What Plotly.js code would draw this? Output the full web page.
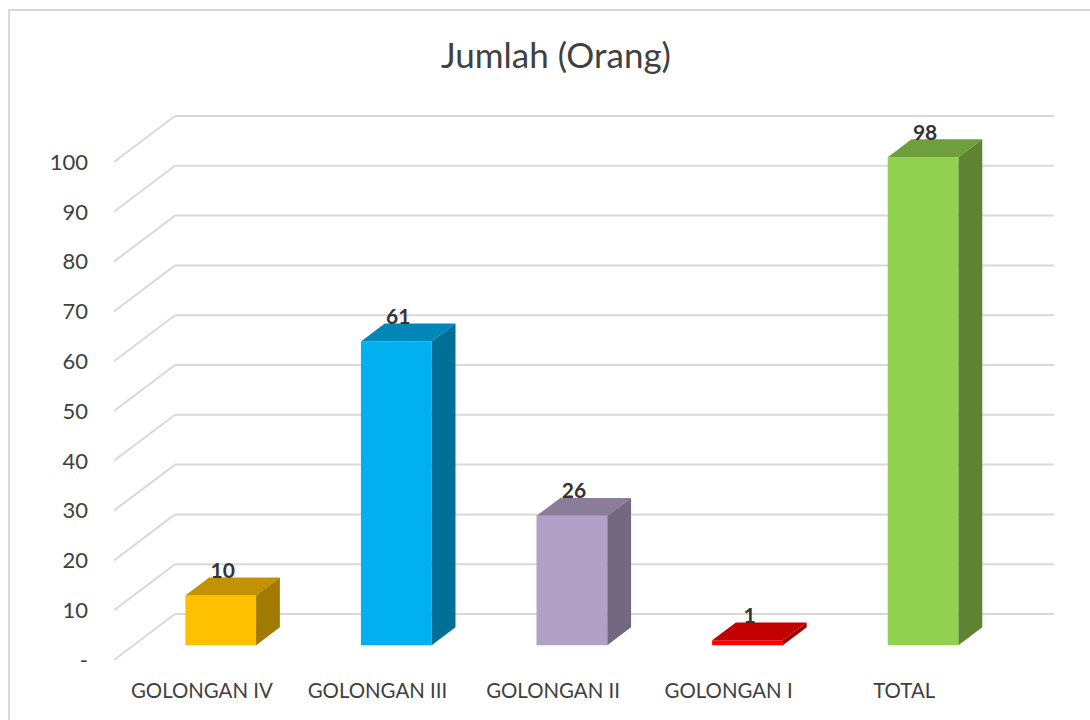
<!DOCTYPE html>
<html>
<head>
<meta charset="utf-8">
<script src="https://cdn.plot.ly/plotly-3.0.1.min.js"></script>
<style>html,body{margin:0;padding:0;background:#fff}#chart{width:1090px;height:720px}</style>
</head>
<body>
<div id="chart"></div>
<script>
const categories = ["GOLONGAN IV", "GOLONGAN III", "GOLONGAN II", "GOLONGAN I", "TOTAL"];
const values = [10, 61, 26, 1, 98];
const frontColors = ["#FFC000", "#00B0F0", "#B2A1C7", "#FF0000", "#92D050"];
const topColors = ["#C29200", "#0086B7", "#8A7D9A", "#C20000", "#6F9E3D"];
const sideColors = ["#A17A00", "#006F98", "#736880", "#A10000", "#5E8432"];
const tickValues = [0, 10, 20, 30, 40, 50, 60, 70, 80, 90, 100];
const tickLabels = ["-", "10", "20", "30", "40", "50", "60", "70", "80", "90", "100"];

const W = 1090, H = 720;
const plot = {l: 114, r: 1054, t: 110, b: 660};
const unitX = 175.6, unitY = 4.98;
const depthX = 61 / unitX, depthY = 46 / unitY;
const xMin = -0.5, xMax = xMin + (plot.r - plot.l) / unitX;
const yMax = (plot.b - plot.t) / unitY;
const barFront = 0.31, barDepth = 0.39, barW = 0.403;

const positions = categories.map((_, i) => i);
const traces = [];

// floor + back wall grid, under the bars
const gridLine = (x0, y0, x1, y1) => ({type: "line", xref: "x", yref: "y", layer: "below",
  x0, y0, x1, y1, line: {color: "#D9D9D9", width: 2}});
const gridShapes = [];
tickValues.forEach(v => {
  gridShapes.push(gridLine(xMin, v, xMin + depthX, v + depthY));
  gridShapes.push(gridLine(xMin + depthX, v + depthY, xMax, v + depthY));
});

// bars: front faces
const frontX = positions.map(p => p + depthX * barFront);
const frontBase = 14.7 / unitY;
traces.push({type: "bar", x: frontX, y: values, base: values.map(() => frontBase),
  width: barW, marker: {color: frontColors, line: {width: 0}}, showlegend: false, hoverinfo: "skip"});

// bars: top and side faces
values.forEach((v, i) => {
  const x0 = frontX[i] - barW / 2, x1 = frontX[i] + barW / 2;
  const run = depthX * barDepth, rise = depthY * barDepth;
  const top = v + frontBase;
  traces.push({type: "scatter", mode: "lines", fill: "toself", fillcolor: topColors[i],
    x: [x0, x1, x1 + run, x0 + run, x0], y: [top, top, top + rise, top + rise, top],
    line: {width: 0, color: topColors[i]}, showlegend: false, hoverinfo: "skip"});
  traces.push({type: "scatter", mode: "lines", fill: "toself", fillcolor: sideColors[i],
    x: [x1, x1 + run, x1 + run, x1, x1], y: [frontBase, frontBase + rise, top + rise, top, frontBase],
    line: {width: 0, color: sideColors[i]}, showlegend: false, hoverinfo: "skip"});
});

// data labels
traces.push({type: "scatter", mode: "text",
  x: frontX.map(x => x + 2 / unitX),
  y: values.map(v => v + frontBase + 23 / unitY),
  text: values.map(String), textposition: "middle center",
  textfont: {family: "Lato, 'Open Sans', sans-serif", size: 21, color: "#333333", weight: 700},
  showlegend: false, hoverinfo: "skip"});

const frame = {type: "rect", xref: "paper", yref: "paper", layer: "below",
  x0: (9 - plot.l) / (plot.r - plot.l), x1: (1110 - plot.l) / (plot.r - plot.l),
  y0: (plot.b - 760) / (plot.b - plot.t), y1: (plot.b - 10) / (plot.b - plot.t),
  line: {color: "#D9D9D9", width: 2}, fillcolor: "rgba(0,0,0,0)"};

const layout = {
  width: W, height: H, autosize: false,
  paper_bgcolor: "#fff", plot_bgcolor: "rgba(0,0,0,0)",
  margin: {l: plot.l, r: W - plot.r, t: plot.t, b: H - plot.b, pad: 0},
  font: {family: "Lato, 'Open Sans', sans-serif", color: "#404040"},
  title: {text: "Jumlah (Orang)", font: {size: 35, color: "#404040", family: "Lato, 'Open Sans', sans-serif"},
    x: 556 / W, xanchor: "center", y: 1 - 56 / H, yanchor: "middle"},
  barmode: "overlay",
  xaxis: {type: "linear", range: [xMin, xMax], tickmode: "array", tickvals: positions, ticktext: categories,
    showgrid: false, zeroline: false, showline: false, ticks: "", ticklabelstandoff: 17,
    tickfont: {size: 20.4, color: "#404040"}, automargin: false, fixedrange: true},
  yaxis: {type: "linear", range: [0, yMax], tickmode: "array", tickvals: tickValues, ticktext: tickLabels,
    showgrid: false, zeroline: false, showline: false, ticks: "", ticklabelstandoff: 25,
    tickfont: {size: 22, color: "#404040"}, automargin: false, fixedrange: true},
  shapes: [frame].concat(gridShapes)
};
Plotly.newPlot("chart", traces, layout, {displayModeBar: false, staticPlot: true});
</script>
</body>
</html>
